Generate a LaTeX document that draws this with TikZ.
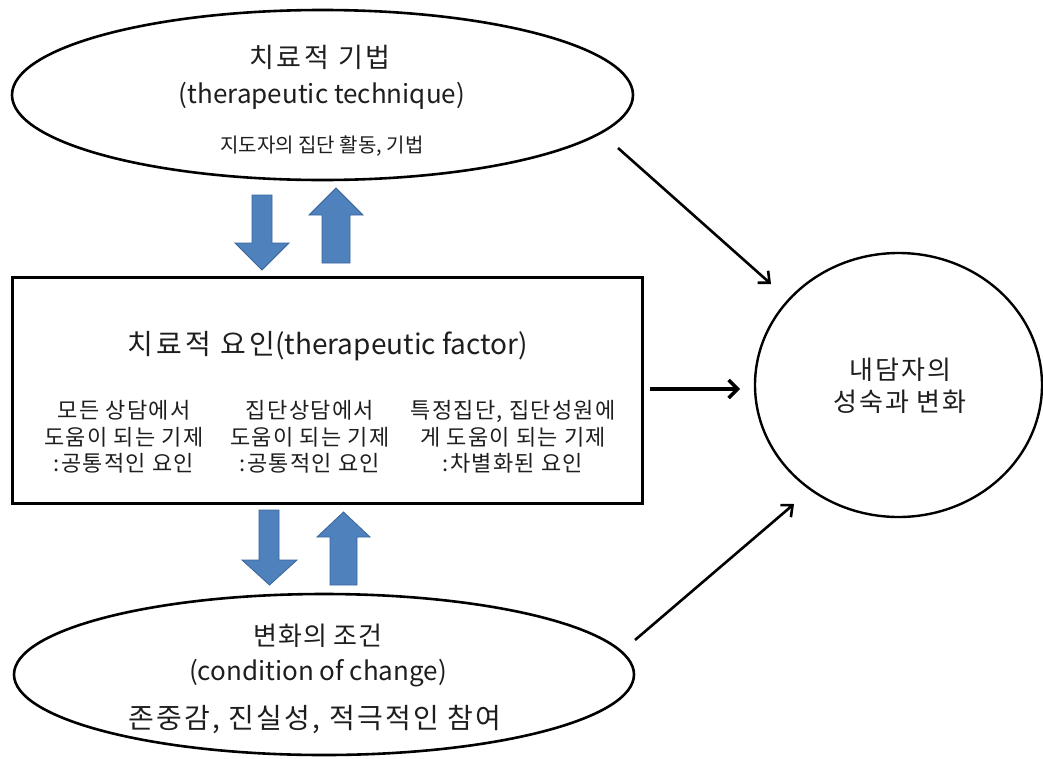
\documentclass[tikz,border=0pt]{standalone}
\usepackage{fontspec}
\setmainfont{Noto Sans CJK KR}
\usetikzlibrary{shapes.geometric,arrows.meta}
\definecolor{arrowblue}{HTML}{4F81BD}
\definecolor{arrowedge}{HTML}{3A6599}
\definecolor{txt}{HTML}{1E1E1E}
\newcommand{\fsz}[3]{\fontsize{#1}{#2}\selectfont\addfontfeatures{LetterSpace=#3}}
\tikzset{
  oval/.style={ellipse,draw=black,line width=2.6pt,inner sep=0pt},
  box/.style={rectangle,draw=black,line width=3pt,inner sep=0pt},
  lbl/.style={inner sep=0pt,text=txt,align=center},
  bluearrow/.style={fill=arrowblue,draw=arrowedge,line width=0.8pt,line join=miter},
  link/.style={draw=black,line width=2.6pt,-{Straight Barb[length=9pt,width=16pt,line width=2.6pt]}},
  thicklink/.style={draw=black,line width=4pt,-{Straight Barb[length=9pt,width=18pt,line width=3.4pt]}}
}
\begin{document}
\begin{tikzpicture}[x=1pt,y=-1pt]
\useasboundingbox (0,0) rectangle (1043,758);

% top ellipse
\node[oval,minimum width=621pt,minimum height=170pt] (tech) at (322.5,95) {};
\node[lbl,font=\fsz{27}{30}{10}] (techT) at (320,57) {치료적 기법};
\node[lbl,font=\fsz{26}{30}{0}] (techE) at (322,96) {(therapeutic technique)};
\node[lbl,font=\fsz{20}{22}{0}] (techS) at (322,146) {지도자의 집단 활동, 기법};

% factor box
\node[box,minimum width=630pt,minimum height=226pt] (fact) at (327,390) {};
\node[lbl,font=\fsz{28}{30}{0}] (factT) at (328,346) {{\addfontfeatures{LetterSpace=11}치료적 요인}(therapeutic factor)};
\node[lbl,font=\fsz{22}{26.5}{6}] (c1) at (124,437) {모든 상담에서\\도움이 되는 기제\\:공통적인 요인};
\node[lbl,font=\fsz{22}{26.5}{6}] (c2) at (310,437) {집단상담에서\\도움이 되는 기제\\:공통적인 요인};
\node[lbl,font=\fsz{22}{26.5}{6}] (c3) at (513,437) {특정집단, 집단성원에\\게 도움이 되는 기제\\:차별화된 요인};

% bottom ellipse
\node[oval,minimum width=620pt,minimum height=161pt] (cond) at (324,674.5) {};
\node[lbl,font=\fsz{26}{30}{4}] (condT) at (318,636) {변화의 조건};
\node[lbl,font=\fsz{26}{28}{0}] (condE) at (318,673) {(condition of change)};
\node[lbl,font=\fsz{28}{30}{8}] (condS) at (315,720) {존중감, 진실성, 적극적인 참여};

% right ellipse
\node[ellipse,draw=black,line width=2.4pt,inner sep=0pt,minimum width=287pt,minimum height=264pt] (client) at (898.5,385) {};
\node[lbl,font=\fsz{26}{32}{8}] (clientT) at (900,386) {내담자의\\성숙과 변화};

% blue block arrows (upper pair)
\path[bluearrow] (252,195) -- (272,195) -- (272,243) -- (289,243) -- (262,270) -- (235,243) -- (252,243) -- cycle;
\path[bluearrow] (322,263) -- (350,263) -- (350,215) -- (363,215) -- (336,188) -- (309,215) -- (322,215) -- cycle;
% blue block arrows (lower pair)
\path[bluearrow] (259,510) -- (279,510) -- (279,560) -- (297,560) -- (269.5,585) -- (242,560) -- (259,560) -- cycle;
\path[bluearrow] (330,585) -- (357,585) -- (357,537) -- (370,537) -- (343.5,512) -- (317,537) -- (330,537) -- cycle;

% black connectors
\coordinate (a1s) at (618,148);
\coordinate (a1e) at (771,284);
\coordinate (a2s) at (635,640);
\coordinate (a2e) at (794,504);
\coordinate (a3s) at (650,389);
\coordinate (a3e) at (740,389);
\draw[link] (a1s) -- (a1e);
\draw[link] (a2s) -- (a2e);
\draw[thicklink] (a3s) -- (a3e);
\end{tikzpicture}
\end{document}
